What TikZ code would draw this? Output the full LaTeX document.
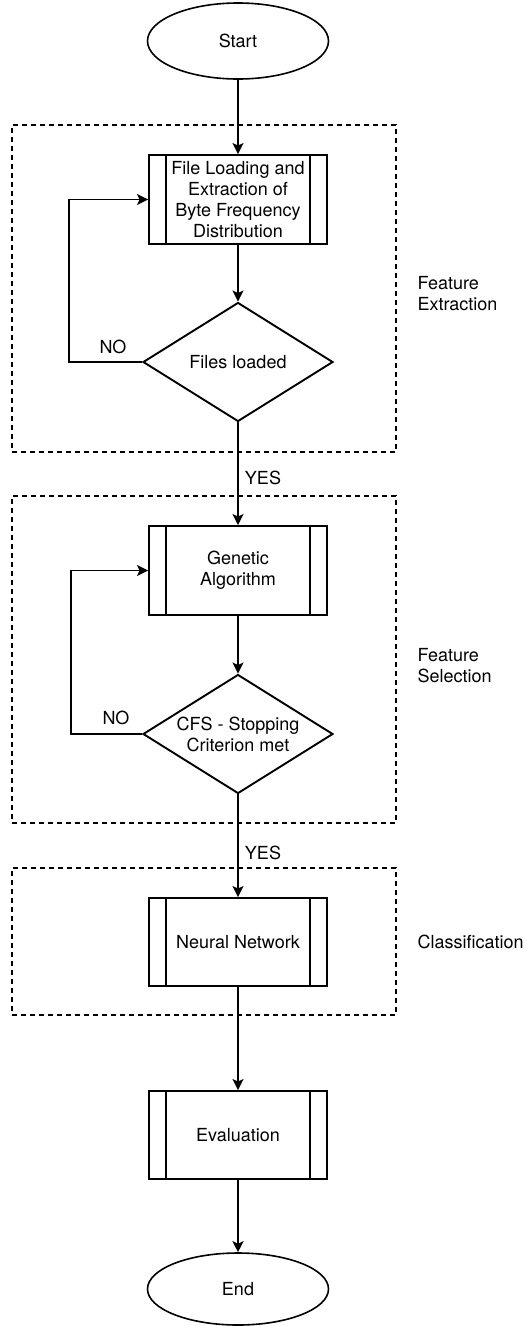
\documentclass[tikz,border=0pt]{standalone}
\usepackage{fontspec}
\setmainfont{TeX Gyre Heros}
\usetikzlibrary{shapes.geometric,arrows.meta}
\begin{document}
\begin{tikzpicture}[x=1pt,y=-1pt,
  every node/.style={font=\fontsize{18}{21}\selectfont},
  term/.style={ellipse, draw, line width=1.6pt, inner sep=0pt, minimum width=181pt, minimum height=76pt},
  proc/.style={rectangle, draw, line width=1.9pt, inner sep=0pt, minimum width=178pt, minimum height=89pt, align=center},
  dec/.style={diamond, draw, line width=1.9pt, inner sep=0pt, minimum width=190pt, minimum height=119pt},
  groupbox/.style={draw, line width=1.4pt, dash pattern=on 5pt off 4pt, inner sep=0pt},
  arr/.style={-{Stealth[length=11pt,width=11pt,inset=2.5pt]}, line width=1.9pt},
  bar/.style={line width=1.9pt},
  sidelab/.style={align=left, anchor=west},
  edgelab/.style={inner sep=0pt}]
\useasboundingbox (0,0) rectangle (527,1326);

% group frames
\node[groupbox, minimum width=384pt, minimum height=327pt] (g1) at (204,288.5) {};
\node[groupbox, minimum width=384pt, minimum height=327pt] (g2) at (204,659.5) {};
\node[groupbox, minimum width=384pt, minimum height=147pt] (g3) at (204,941.5) {};

\node[sidelab] (l1) at (414,294) {Feature\\Extraction};
\node[sidelab] (l2) at (414,666) {Feature\\Selection};
\node[sidelab] (l3) at (414,942) {Classification};

% flow nodes
\node[term] (start) at (238,41) {Start};
\node[proc] (b1) at (238,199.5) {File Loading and\\Extraction of\\Byte Frequency\\Distribution};
\node[dec] (d1) at (238,362) {};
\node (t1) at (d1) {Files loaded};
\node[proc] (b2) at (238,570.5) {Genetic\\Algorithm};
\node[dec] (d2) at (238,734) {};
\node[align=center] (t2) at (d2) {CFS - Stopping\\Criterion met};
\node[proc, minimum height=88pt] (b3) at (238,942) {Neural Network};
\node[proc, minimum height=88pt] (b4) at (238,1135) {Evaluation};
\node[term, minimum height=72pt] (end) at (238,1289) {End};

% process side bars
\foreach \n in {b1,b2,b3,b4}{
  \draw[bar] ([xshift=18pt]\n.north west) -- ([xshift=18pt]\n.south west);
  \draw[bar] ([xshift=-18pt]\n.north east) -- ([xshift=-18pt]\n.south east);
}

% connectors
\draw[arr] (start) -- (b1);
\draw[arr] (b1) -- (d1);
\draw[arr] (d1) -- (b2);
\draw[arr] (b2) -- (d2);
\draw[arr] (d2) -- (b3);
\draw[arr] (b3) -- (b4);
\draw[arr] (b4) -- (end);

\coordinate (c1) at (69,362);
\coordinate (c2) at (71,734);
\draw[arr] (d1.west) -- (c1) |- (b1.west);
\draw[arr] (d2.west) -- (c2) |- (b2.west);

% edge labels
\node[edgelab] (no1) at (113,347) {NO};
\node[edgelab] (no2) at (116,718) {NO};
\node[edgelab] (yes1) at (263,478) {YES};
\node[edgelab] (yes2) at (263,853) {YES};
\end{tikzpicture}
\end{document}
